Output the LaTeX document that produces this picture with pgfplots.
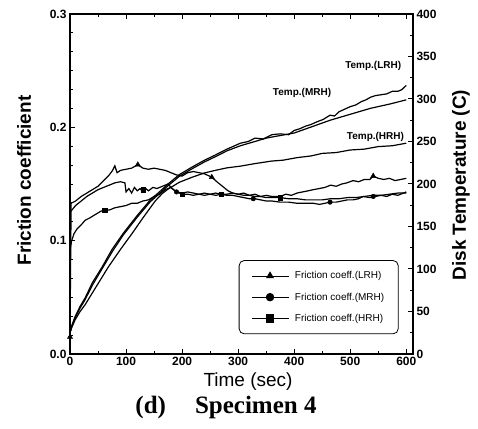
\documentclass[border=0pt]{standalone}
\usepackage{fontspec}
\setmainfont{Liberation Sans}
\newfontfamily\serifb{Liberation Serif}
\usepackage{pgfplots}
\pgfplotsset{compat=1.18}
\begin{document}
\begin{tikzpicture}
\path[use as bounding box] (0,0) rectangle (478pt,428pt);
\pgfplotsset{
 myaxis/.style={
  at={(70pt,74pt)}, anchor=south west,
  width=343pt, height=340pt, scale only axis,
  xmin=0, xmax=612,
  axis line style={line width=1.4pt},
  tick align=inside,
  major tick length=5pt, minor tick length=3pt,
  major tick style={black, line width=1pt},
  minor tick style={black, line width=0.8pt},
  /pgf/number format/assume math mode=true,
  tick label style={font=\fontsize{12}{13}\selectfont\bfseries},
 },
 fric/.style={black, line width=1.2pt, mark repeat=1000, mark phase=1000, mark size=3.3pt},
 temp/.style={black, line width=1.2pt, no marks},
}
% temperature axis (right)
\begin{axis}[myaxis,
  ymin=0, ymax=400, ytick={0,50,...,400}, minor y tick num=1,
  axis y line*=right, axis x line=none,
  ylabel={Disk Temperature (C)},
  ylabel style={font=\fontsize{19}{20}\selectfont\bfseries, at={(axis description cs:1.14,0.497)}, anchor=center},
]
\addplot[temp] coordinates {(0,25)(3,33)(9,44)(18,56)(27,66)(40,84)(57,102)(75,123)(95,142)(120,163)(143,181)(160,191)(175,200)(195,211)(218,220)(240,228)(259,234)(280,241)(304,248)(318,250)(330,254)(345,253)(360,258)(375,259)(390,258)(400,263)(410,265)(420,268)(430,270)(440,273)(452,276)(464,281)(472,280)(480,285)(490,288)(500,291)(510,293)(520,297)(528,299)(536,302)(545,304)(555,305)(565,306)(575,309)(585,309)(592,311)(600,316)};
\addplot[temp] coordinates {(0,25)(3,32)(9,42)(18,54)(27,64)(40,81)(57,100)(75,120)(95,140)(120,161)(143,179)(160,189)(175,198)(195,209)(218,218)(240,226)(259,232)(280,239)(304,245)(330,250)(350,254)(375,257)(400,260)(430,267)(464,275)(500,282)(536,289)(570,294)(600,299)};
\addplot[temp] coordinates {(0,25)(3,31)(9,40)(18,50)(27,58)(40,72)(55,88)(68,102)(90,123)(111,142)(130,160)(152,180)(165,189)(175,194)(195,202)(218,208)(240,213)(259,216)(280,219)(304,221)(330,224)(360,227)(380,228)(405,231)(430,233)(450,236)(475,237)(500,240)(525,241)(550,244)(575,245)(600,248)};
\node[font=\fontsize{10}{11}\selectfont\bfseries] at (axis cs:541,339) {Temp.(LRH)};
\node[font=\fontsize{10}{11}\selectfont\bfseries] at (axis cs:414,307) {Temp.(MRH)};
\node[font=\fontsize{10}{11}\selectfont\bfseries] at (axis cs:545,255) {Temp.(HRH)};
\end{axis}
% friction axis (left)
\begin{axis}[myaxis,
  ymin=0, ymax=0.3, ytick={0,0.1,0.2,0.3}, minor y tick num=5,
  ytick pos=left, xtick pos=both,
  xtick={0,100,...,600}, minor x tick num=1,
  yticklabel style={/pgf/number format/.cd, fixed, fixed zerofill, precision=1},
  xlabel={Time (sec)},
  xlabel style={font=\fontsize{19}{20}\selectfont, at={(axis description cs:0.519,-0.082)}, anchor=center},
  ylabel={Friction coefficient},
  ylabel style={font=\fontsize{19}{20}\selectfont\bfseries, at={(axis description cs:-0.134,0.51)}, anchor=center},
  legend style={at={(axis description cs:0.958,0.276)}, anchor=north east, draw=black, line width=0.8pt, rounded corners=5pt, font=\fontsize{10}{11}\selectfont, row sep=8.5pt, inner xsep=12pt, inner ysep=9pt, /tikz/every odd column/.append style={column sep=4pt}},
  legend cell align=left,
  legend image code/.code={\draw[#1, line width=0.8pt, mark size=3.8pt, mark repeat=2, mark phase=2] plot coordinates {(0cm,0cm) (0.65cm,0cm) (1.3cm,0cm)};},
]
\addplot[fric, mark=triangle*] coordinates {(0,0.015)(2,0.133)(10,0.135)(20,0.139)(30,0.142)(40,0.145)(50,0.148)(62,0.154)(70,0.158)(76,0.162)(80,0.166)(84,0.160)(90,0.162)(100,0.163)(110,0.164)(121,0.167)(130,0.164)(140,0.163)(150,0.164)(160,0.163)(170,0.162)(180,0.160)(190,0.158)(200,0.157)(210,0.160)(220,0.161)(230,0.160)(240,0.159)(253,0.156)(262,0.152)(272,0.148)(282,0.144)(290,0.142)(300,0.141)(310,0.142)(320,0.140)(330,0.141)(340,0.139)(350,0.140)(360,0.139)(375,0.139)(385,0.141)(395,0.140)(405,0.142)(415,0.143)(425,0.144)(434,0.145)(445,0.146)(455,0.147)(465,0.149)(475,0.148)(485,0.150)(494,0.151)(505,0.153)(515,0.152)(525,0.154)(535,0.154)(541,0.157)(550,0.155)(560,0.154)(570,0.155)(580,0.153)(590,0.154)(600,0.155)};
\addlegendentry{Friction coeff.(LRH)}
\addplot[fric, mark=*] coordinates {(0,0.125)(10,0.131)(20,0.135)(30,0.139)(40,0.142)(50,0.145)(60,0.147)(70,0.149)(80,0.151)(90,0.152)(98,0.151)(100,0.143)(105,0.146)(110,0.142)(115,0.147)(120,0.144)(125,0.146)(130,0.143)(135,0.146)(140,0.144)(148,0.147)(155,0.146)(165,0.148)(175,0.150)(182,0.146)(190,0.143)(200,0.142)(210,0.143)(220,0.142)(230,0.141)(240,0.142)(250,0.141)(260,0.142)(270,0.141)(280,0.140)(290,0.140)(300,0.139)(310,0.138)(320,0.137)(330,0.137)(340,0.136)(350,0.135)(360,0.135)(375,0.134)(390,0.134)(405,0.133)(420,0.133)(434,0.133)(445,0.132)(455,0.133)(464,0.134)(475,0.134)(485,0.135)(495,0.136)(505,0.136)(515,0.137)(523,0.139)(535,0.138)(545,0.139)(555,0.140)(565,0.139)(575,0.141)(585,0.140)(595,0.142)(600,0.143)};
\addlegendentry{Friction coeff.(MRH)}
\addplot[fric, mark=square*] coordinates {(0,0.092)(3,0.100)(7,0.106)(12,0.110)(20,0.114)(27,0.118)(35,0.120)(45,0.123)(55,0.126)(62,0.127)(70,0.127)(80,0.129)(90,0.130)(100,0.131)(110,0.133)(120,0.133)(130,0.135)(140,0.136)(150,0.139)(160,0.141)(170,0.145)(180,0.147)(190,0.143)(200,0.141)(210,0.141)(220,0.140)(230,0.141)(240,0.140)(250,0.141)(260,0.140)(270,0.141)(280,0.141)(290,0.142)(300,0.141)(310,0.140)(320,0.140)(330,0.139)(340,0.139)(350,0.138)(360,0.138)(375,0.138)(390,0.137)(405,0.137)(420,0.136)(434,0.136)(450,0.136)(465,0.137)(480,0.137)(495,0.138)(510,0.138)(525,0.139)(540,0.140)(555,0.140)(570,0.141)(585,0.142)(600,0.142)};
\addlegendentry{Friction coeff.(HRH)}
\addplot[only marks, mark=triangle*, mark size=3pt, black, forget plot] coordinates {(0,0.015)(121,0.167)(253,0.156)(541,0.157)};
\addplot[only marks, mark=*, mark size=2.3pt, black, forget plot] coordinates {(190,0.143)(327,0.137)(464,0.134)(541,0.139)};
\addplot[only marks, mark=square*, mark size=2.2pt, black, forget plot] coordinates {(62,0.127)(131,0.145)(200,0.141)(270,0.141)(375,0.138)};
\end{axis}
\node[font=\serifb\fontsize{25}{26}\selectfont\bfseries, anchor=base] at (226pt,15pt) {(d)\hspace{29pt}Specimen 4};
\end{tikzpicture}
\end{document}
